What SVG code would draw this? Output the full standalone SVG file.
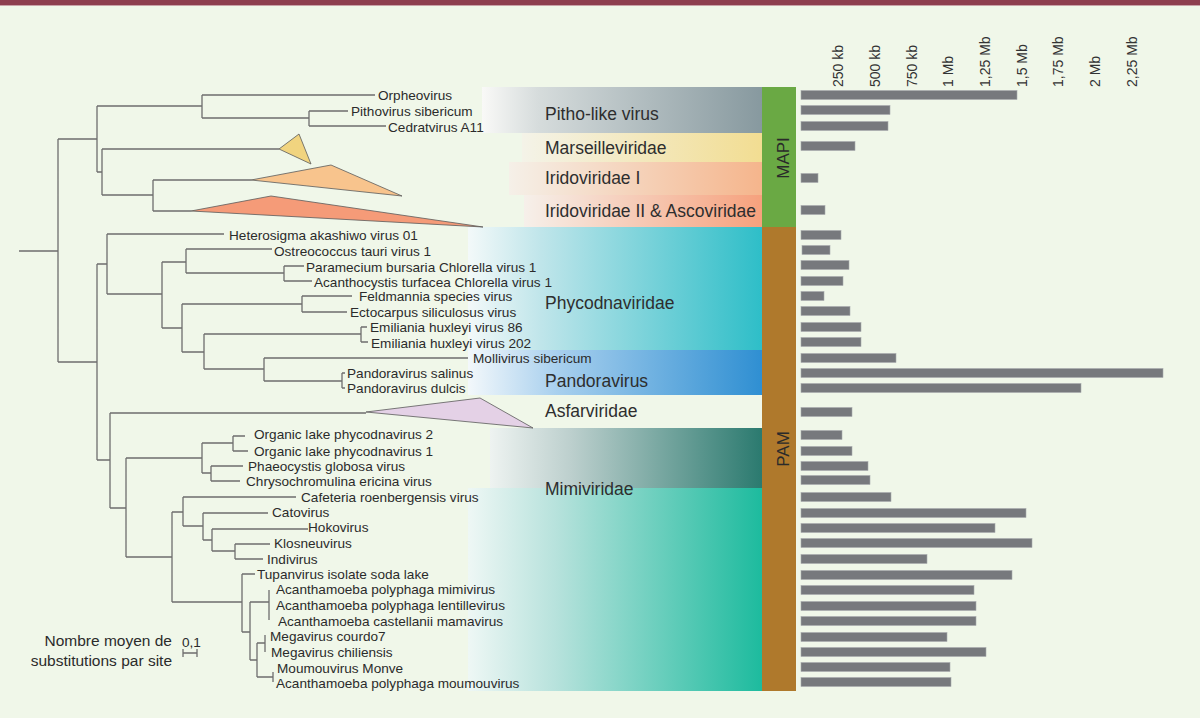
<svg xmlns="http://www.w3.org/2000/svg" width="1200" height="718" viewBox="0 0 1200 718">
<defs>
<style>
.lf{font-family:"Liberation Sans",Arial,sans-serif;font-size:13.6px;fill:#2b2b2b}
.gl{font-family:"Liberation Sans",Arial,sans-serif;font-size:17.5px;fill:#2e2e2e}
.ax{font-family:"Liberation Sans",Arial,sans-serif;font-size:14px;fill:#333}
.sd{font-family:"Liberation Sans",Arial,sans-serif;font-size:17px;fill:#2a2a2a}
.sc{font-family:"Liberation Sans",Arial,sans-serif;font-size:15.5px;fill:#2b2b2b}
.br{fill:#77797d;stroke:#a9acaf;stroke-width:0.6}
.tr{fill:none;stroke:#6e6e6e;stroke-width:1.3}
.tri{stroke:#5a5a5a;stroke-width:0.8}
</style>
<linearGradient id="gPitho"><stop offset="0" stop-color="#f9f9f7"/><stop offset="0.2" stop-color="#d6dcdc"/><stop offset="1" stop-color="#87999f"/></linearGradient>
<linearGradient id="gMars"><stop offset="0" stop-color="#f4f3e8"/><stop offset="1" stop-color="#f2dd92"/></linearGradient>
<linearGradient id="gIr1"><stop offset="0" stop-color="#f5f0e8"/><stop offset="1" stop-color="#f5b58c"/></linearGradient>
<linearGradient id="gIr2"><stop offset="0" stop-color="#f6f0ea"/><stop offset="1" stop-color="#f6a17d"/></linearGradient>
<linearGradient id="gPhy"><stop offset="0" stop-color="#f3f9f9"/><stop offset="0.25" stop-color="#bfe5ea"/><stop offset="1" stop-color="#2ebec8"/></linearGradient>
<linearGradient id="gPan"><stop offset="0" stop-color="#f3f8fb"/><stop offset="0.3" stop-color="#a9d0ee"/><stop offset="1" stop-color="#2f8fd2"/></linearGradient>
<linearGradient id="gMiT"><stop offset="0" stop-color="#eef3f1"/><stop offset="0.3" stop-color="#bccfcd"/><stop offset="1" stop-color="#2b7a6f"/></linearGradient>
<linearGradient id="gMiB"><stop offset="0" stop-color="#eef7f5"/><stop offset="0.3" stop-color="#b7e2dc"/><stop offset="1" stop-color="#1dbb9e"/></linearGradient>
</defs>
<rect x="0" y="0" width="1200" height="718" fill="#f0f7e9"/>
<rect x="0" y="0" width="1200" height="5" fill="#8d3e4e"/>
<line x1="0" y1="5.5" x2="1200" y2="5.5" stroke="#c9a3a8" stroke-width="1"/>

<g id="bands">
<rect id="band-pitho" x="482" y="87" width="280" height="46" fill="url(#gPitho)"/>
<rect id="band-mars" x="522" y="133" width="240" height="29" fill="url(#gMars)"/>
<rect id="band-irido1" x="509" y="162" width="253" height="33" fill="url(#gIr1)"/>
<rect id="band-irido2" x="524" y="195" width="238" height="32" fill="url(#gIr2)"/>
<rect id="band-phyco" x="468" y="227" width="294" height="123" fill="url(#gPhy)"/>
<rect id="band-pandora" x="468" y="350" width="294" height="45" fill="url(#gPan)"/>
<rect id="band-mimi-top" x="490" y="428" width="272" height="60" fill="url(#gMiT)"/>
<rect id="band-mimi-bot" x="468" y="488" width="294" height="203" fill="url(#gMiB)"/>
</g>

<g id="side-mapi"><rect x="762" y="87" width="34" height="140" fill="#6aa944"/><text class="sd" transform="translate(789,158) rotate(-90)" text-anchor="middle">MAPI</text></g>
<g id="side-pam"><rect x="762" y="227" width="34" height="464" fill="#af792c"/><text class="sd" transform="translate(789,449) rotate(-90)" text-anchor="middle">PAM</text></g>

<g id="connectors">
<path class="tr" d="M19,251H58M58,139V362M58,139H97M97,106V172M97,106H202M202,95V118M202,95H375M202,118H309M309,111V126M309,111H348M309,126H386
M97,172H102M102,149V195M102,149H279M102,195H153M153,180V211M153,180H251M153,211H191
M58,362H97M97,264V460M97,264H107M107,234V294M107,234H224M107,294H162M162,262V328M162,262H186M186,249V273M186,249H272M186,273H284M284,266V281M284,266H304M284,281H312
M162,328H182M182,304V352M182,304H302M302,296V312M302,296H352M302,312H347
M182,352H204M204,334V369M204,334H361M361,327V342M361,327H367M361,342H368
M204,369H264M264,358V381M264,358H468M264,381H342M342,373V388M342,373H345M342,388H345
M97,460H110M110,413V508M110,413H366M110,508H126M126,458V557M126,458H202M202,443V473M202,443H233M233,436V451M233,436H245M233,451H248M202,473H211M211,466V481M211,466H243M211,481H240
M126,557H172M172,512V602M172,512H183M183,497V526M183,497H296M183,526H203M203,513V540M203,513H268M203,540H212M212,529V551M212,529H308M212,551H235M235,544V559M235,544H270M235,559H263
M172,602H242M242,574V632M242,574H255M242,632H250M250,602V660M250,602H269M269,590V620M250,660H257M257,643V677M257,643H265M265,635V652M257,677H273M273,672V682"/>
</g>

<g id="clade-marseille"><polygon class="tri" points="279,149 299,134 311,164" fill="#f1d47f"/></g>
<g id="clade-irido1"><polygon class="tri" points="251,180 331,165 402,196" fill="#f8c48d"/></g>
<g id="clade-irido2"><polygon class="tri" points="191,211 271,196 483,227" fill="#f59b78"/></g>
<g id="clade-asfar"><polygon class="tri" points="366,412 480,398 533,428" fill="#e4d1e6"/></g>

<g id="leaves">
<text class="lf" x="378" y="100">Orpheovirus</text>
<text class="lf" x="351" y="116">Pithovirus sibericum</text>
<text class="lf" x="388" y="132">Cedratvirus A11</text>
<text class="lf" x="229" y="240">Heterosigma akashiwo virus 01</text>
<text class="lf" x="274" y="256">Ostreococcus tauri virus 1</text>
<text class="lf" x="306" y="272">Paramecium bursaria Chlorella virus 1</text>
<text class="lf" x="314" y="287">Acanthocystis turfacea Chlorella virus 1</text>
<text class="lf" x="359" y="301">Feldmannia species virus</text>
<text class="lf" x="350" y="317">Ectocarpus siliculosus virus</text>
<text class="lf" x="370" y="332">Emiliania huxleyi virus 86</text>
<text class="lf" x="371" y="348">Emiliania huxleyi virus 202</text>
<text class="lf" x="473" y="363">Mollivirus sibericum</text>
<text class="lf" x="347" y="378">Pandoravirus salinus</text>
<text class="lf" x="347" y="393">Pandoravirus dulcis</text>
<text class="lf" x="254" y="439">Organic lake phycodnavirus 2</text>
<text class="lf" x="254" y="456">Organic lake phycodnavirus 1</text>
<text class="lf" x="248" y="471">Phaeocystis globosa virus</text>
<text class="lf" x="246" y="486">Chrysochromulina ericina virus</text>
<text class="lf" x="301" y="502">Cafeteria roenbergensis virus</text>
<text class="lf" x="272" y="517">Catovirus</text>
<text class="lf" x="308" y="532">Hokovirus</text>
<text class="lf" x="274" y="548">Klosneuvirus</text>
<text class="lf" x="267" y="564">Indivirus</text>
<text class="lf" x="257" y="579">Tupanvirus isolate soda lake</text>
<text class="lf" x="276" y="594">Acanthamoeba polyphaga mimivirus</text>
<text class="lf" x="276" y="610">Acanthamoeba polyphaga lentillevirus</text>
<text class="lf" x="278" y="626">Acanthamoeba castellanii mamavirus</text>
<text class="lf" x="270" y="641">Megavirus courdo7</text>
<text class="lf" x="271" y="657">Megavirus chiliensis</text>
<text class="lf" x="277" y="673">Moumouvirus Monve</text>
<text class="lf" x="276" y="688">Acanthamoeba polyphaga moumouvirus</text>
</g>

<g id="group-labels">
<text class="gl" x="545" y="120">Pitho-like virus</text>
<text class="gl" x="545" y="154">Marseilleviridae</text>
<text class="gl" x="545" y="184">Iridoviridae I</text>
<text class="gl" x="545" y="217">Iridoviridae II &amp; Ascoviridae</text>
<text class="gl" x="545" y="309">Phycodnaviridae</text>
<text class="gl" x="545" y="387">Pandoravirus</text>
<text class="gl" x="545" y="417">Asfarviridae</text>
<text class="gl" x="545" y="495">Mimiviridae</text>
</g>

<g id="axis">
<text class="ax" transform="translate(843,87) rotate(-90)">250 kb</text>
<text class="ax" transform="translate(880,87) rotate(-90)">500 kb</text>
<text class="ax" transform="translate(917,87) rotate(-90)">750 kb</text>
<text class="ax" transform="translate(953,87) rotate(-90)">1 Mb</text>
<text class="ax" transform="translate(990,87) rotate(-90)">1,25 Mb</text>
<text class="ax" transform="translate(1027,87) rotate(-90)">1,5 Mb</text>
<text class="ax" transform="translate(1063,87) rotate(-90)">1,75 Mb</text>
<text class="ax" transform="translate(1100,87) rotate(-90)">2 Mb</text>
<text class="ax" transform="translate(1137,87) rotate(-90)">2,25 Mb</text>
</g>

<g id="bars">
<rect class="br" x="801" y="90.5" width="216" height="9"/>
<rect class="br" x="801" y="105.5" width="89" height="9"/>
<rect class="br" x="801" y="121.5" width="87" height="9"/>
<rect class="br" x="801" y="141.5" width="54" height="9"/>
<rect class="br" x="801" y="173.5" width="17" height="9"/>
<rect class="br" x="801" y="205.5" width="24" height="9"/>
<rect class="br" x="801" y="230.5" width="40" height="9"/>
<rect class="br" x="802" y="245.5" width="28" height="9"/>
<rect class="br" x="801" y="260.5" width="48" height="9"/>
<rect class="br" x="801" y="276.5" width="42" height="9"/>
<rect class="br" x="801" y="291.5" width="23" height="9"/>
<rect class="br" x="801" y="306.5" width="49" height="9"/>
<rect class="br" x="801" y="322.5" width="60" height="9"/>
<rect class="br" x="801" y="337.5" width="60" height="9"/>
<rect class="br" x="801" y="353.5" width="95" height="9"/>
<rect class="br" x="801" y="368.5" width="362" height="9"/>
<rect class="br" x="801" y="383.5" width="280" height="9"/>
<rect class="br" x="801" y="407.5" width="51" height="9"/>
<rect class="br" x="801" y="430.5" width="41" height="9"/>
<rect class="br" x="801" y="446.5" width="51" height="9"/>
<rect class="br" x="801" y="461.5" width="67" height="9"/>
<rect class="br" x="801" y="475.5" width="69" height="9"/>
<rect class="br" x="801" y="492.5" width="90" height="9"/>
<rect class="br" x="801" y="508.5" width="225" height="9"/>
<rect class="br" x="801" y="523.5" width="194" height="9"/>
<rect class="br" x="801" y="538.5" width="231" height="9"/>
<rect class="br" x="801" y="554.5" width="126" height="9"/>
<rect class="br" x="801" y="570.5" width="211" height="9"/>
<rect class="br" x="801" y="585.5" width="173" height="9"/>
<rect class="br" x="801" y="601.5" width="175" height="9"/>
<rect class="br" x="801" y="616.5" width="175" height="9"/>
<rect class="br" x="801" y="632.5" width="146" height="9"/>
<rect class="br" x="801" y="647.5" width="185" height="9"/>
<rect class="br" x="801" y="662.5" width="149" height="9"/>
<rect class="br" x="801" y="677.5" width="150" height="9"/>
</g>

<g id="scale">
<text class="sc" x="172" y="646" text-anchor="end">Nombre moyen de</text>
<text class="sc" x="172" y="666" text-anchor="end">substitutions par site</text>
<text class="lf" x="182" y="647">0,1</text>
<path class="tr" d="M183,653H197M183,649V657M197,649V657" stroke-width="1.2"/>
</g>
</svg>
